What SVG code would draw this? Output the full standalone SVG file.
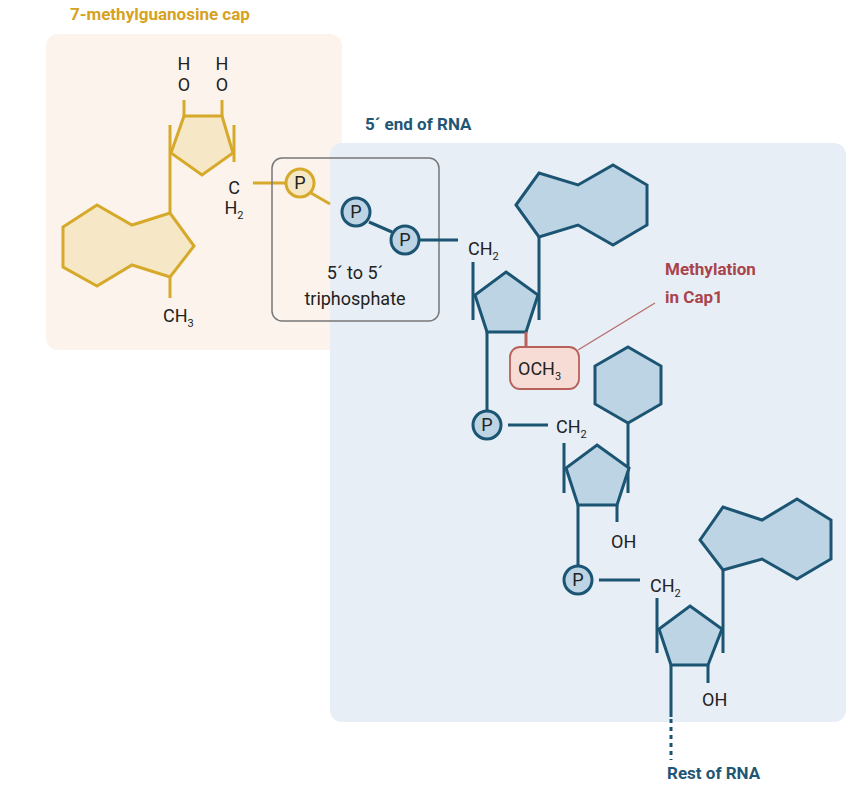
<svg xmlns="http://www.w3.org/2000/svg" width="860" height="786" viewBox="0 0 860 786">
<style>
.g{stroke:#d6a92b;stroke-width:3;fill:#f6e7c6;stroke-linejoin:miter}
.gl{stroke:#d6a92b;stroke-width:3;fill:none}
.b{stroke:#1b5573;stroke-width:3;fill:#bdd4e4}
.bl{stroke:#1b5573;stroke-width:3;fill:none}
.t{font-family:Roboto,"Liberation Sans",sans-serif;font-size:18px;fill:#222}
.s{font-size:11px}
.h{font-family:Roboto,"Liberation Sans",sans-serif;font-size:17px;font-weight:bold}
</style>
<rect x="46" y="34" width="296" height="316" rx="12" fill="#fcf4ec"/>
<rect x="330" y="143" width="516" height="579" rx="12" fill="#e8eef5"/>
<text class="h" x="70" y="20" fill="#d6a21f">7-methylguanosine cap</text>
<text class="h" x="365" y="130" fill="#1f5675">5´ end of RNA</text>
<g id="cap">
<polygon class="g" points="184,116 222,116 233,153 202,175 171,153"/>
<polygon class="g" points="63,227 97,205 132,225 170,213 194,246 170,277 132,265 97,286 63,267"/>
<path class="gl" d="M184,116V100M222,116V100M170,125V213M234,125V162M170,277V298M253,183H285"/>
<text class="t" x="184" y="70" text-anchor="middle">H</text>
<text class="t" x="184" y="91" text-anchor="middle">O</text>
<text class="t" x="222" y="70" text-anchor="middle">H</text>
<text class="t" x="222" y="91" text-anchor="middle">O</text>
<text class="t" x="234" y="194" text-anchor="middle">C</text>
<text class="t" x="234" y="214" text-anchor="middle">H<tspan class="s" dy="5">2</tspan></text>
<text class="t" x="163" y="322">CH<tspan class="s" dy="5">3</tspan></text>
</g>
<g id="triphosphate">
<rect x="272" y="158" width="167" height="163" rx="10" fill="none" stroke="#777" stroke-width="1.5"/>
<path class="gl" d="M311,193L330,204"/>
<path class="bl" d="M369,222L392,232M420,240H458"/>
<circle class="g" cx="300" cy="183" r="14"/>
<circle class="b" cx="356" cy="212" r="14"/>
<circle class="b" cx="405" cy="240" r="14"/>
<text class="t" x="300" y="189" text-anchor="middle">P</text>
<text class="t" x="356" y="218" text-anchor="middle">P</text>
<text class="t" x="405" y="246" text-anchor="middle">P</text>
<text class="t" x="355" y="279" text-anchor="middle">5´ to 5´</text>
<text class="t" x="355" y="305" text-anchor="middle">triphosphate</text>
</g>
<g id="nucleotide1">
<polygon class="b" points="516,205 539,173 578,185 613,165 647,185 647,225 613,245 578,225 539,237"/>
<polygon class="b" points="506,272 538,295 526,332 487,332 475,295"/>
<path class="bl" d="M473,262V320M539,237V320M487,332V410"/>
<text class="t" x="468" y="255">CH<tspan class="s" dy="5">2</tspan></text>
</g>
<g id="och3">
<path d="M526,332V347" stroke="#b8605a" stroke-width="3"/>
<path d="M578,350L655,303" stroke="#b86a6a" stroke-width="1.3"/>
<rect x="510" y="347" width="69" height="42" rx="10" fill="#f7dcd6" stroke="#b8605a" stroke-width="1.8"/>
<text class="t" x="518" y="375">OCH<tspan class="s" dy="5">3</tspan></text>
<text class="h" x="665" y="275" fill="#a8444c">Methylation</text>
<text class="h" x="665" y="303" fill="#a8444c">in Cap1</text>
</g>
<g id="nucleotide2">
<circle class="b" cx="487" cy="425" r="14"/>
<text class="t" x="487" y="431" text-anchor="middle">P</text>
<path class="bl" d="M508,425H548M564,443V493M628,423V493M617,505V522M578,505V565"/>
<polygon class="b" points="628,347 661,366 661,404 628,423 595,404 595,366"/>
<polygon class="b" points="597,445 629,468 617,505 578,505 566,468"/>
<text class="t" x="556" y="433">CH<tspan class="s" dy="5">2</tspan></text>
<text class="t" x="611" y="548">OH</text>
</g>
<g id="nucleotide3">
<circle class="b" cx="578" cy="580" r="14"/>
<text class="t" x="578" y="586" text-anchor="middle">P</text>
<path class="bl" d="M599,580H640M657,598V653M723,570V653M708,665V683M671,665V717"/>
<polygon class="b" points="700,540 723,507 762,520 797,499 831,520 831,559 797,579 762,559 723,570"/>
<polygon class="b" points="690,606 722,629 708,665 671,665 659,629"/>
<text class="t" x="650" y="592">CH<tspan class="s" dy="5">2</tspan></text>
<text class="t" x="702" y="706">OH</text>
</g>
<g id="connectors">
<path d="M671,719V760" stroke="#1b5573" stroke-width="3" stroke-dasharray="4,4"/>
</g>
<text class="h" x="667" y="779" fill="#1f5675">Rest of RNA</text>
</svg>
